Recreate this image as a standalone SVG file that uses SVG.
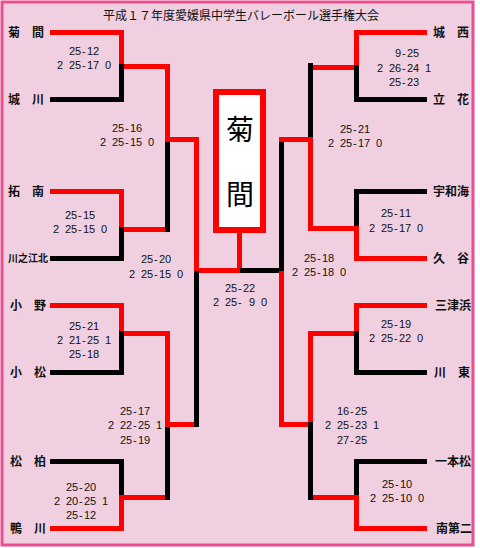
<svg xmlns="http://www.w3.org/2000/svg" width="480" height="548" viewBox="0 0 480 548">
<style>
.r{fill:#ff0000}
.k{fill:#000000}
.nm{font-family:"Noto Sans CJK JP","Noto Sans",sans-serif;font-size:12px;font-weight:700;fill:#111}
.sm{font-size:10px}
.sc{font-family:"Liberation Sans",Arial,sans-serif;font-size:11px;fill:#111}
.tt{font-family:"Noto Sans CJK JP","Noto Sans",sans-serif;font-size:12px;fill:#111}
.ch{font-family:"Noto Sans CJK JP","Noto Sans",sans-serif;font-size:28px;fill:#000;text-anchor:middle}
</style>
<rect x="0" y="0" width="480" height="548" fill="#ffffff"/>
<rect x="2" y="2" width="471" height="543" fill="#f0d0e0" stroke="#ec4c90" stroke-width="3"/>
<text class="tt" x="103" y="20">平成１７年度愛媛県中学生バレーボール選手権大会</text>

<g id="connectors">
<!-- left top quarter -->
<rect class="r" x="50" y="30" width="74" height="5"/>
<rect class="r" x="119" y="30" width="5" height="36"/>
<rect class="k" x="119" y="64" width="5" height="38"/>
<rect class="k" x="50" y="97" width="74" height="5"/>
<rect class="r" x="124" y="64" width="43" height="5"/>
<rect class="r" x="165" y="64" width="5" height="76"/>
<rect class="r" x="50" y="189" width="74" height="5"/>
<rect class="r" x="119" y="189" width="5" height="39"/>
<rect class="k" x="119" y="227" width="5" height="34"/>
<rect class="k" x="50" y="256" width="74" height="5"/>
<rect class="r" x="124" y="227" width="41" height="5"/>
<rect class="k" x="165" y="140" width="5" height="92"/>
<rect class="r" x="165" y="137" width="34" height="5"/>
<!-- left bottom quarter -->
<rect class="r" x="50" y="303" width="74" height="5"/>
<rect class="r" x="119" y="303" width="5" height="30"/>
<rect class="k" x="119" y="331" width="5" height="44"/>
<rect class="k" x="50" y="370" width="74" height="5"/>
<rect class="r" x="124" y="331" width="46" height="5"/>
<rect class="r" x="165" y="331" width="5" height="96"/>
<rect class="k" x="165" y="425" width="5" height="75"/>
<rect class="r" x="165" y="422" width="34" height="5"/>
<rect class="k" x="50" y="459" width="74" height="5"/>
<rect class="k" x="119" y="459" width="5" height="38"/>
<rect class="r" x="119" y="495" width="5" height="36"/>
<rect class="r" x="50" y="526" width="74" height="5"/>
<rect class="r" x="124" y="495" width="41" height="5"/>
<!-- left half final -->
<rect class="r" x="194" y="137" width="5" height="136"/>
<rect class="k" x="194" y="271" width="5" height="156"/>
<!-- final -->
<rect class="r" x="199" y="268" width="41" height="5"/>
<rect class="r" x="237" y="233" width="5" height="37"/>
<rect class="k" x="240" y="268" width="44" height="5"/>
<rect class="k" x="279" y="137" width="5" height="136"/>
<rect class="r" x="279" y="271" width="5" height="156"/>
<!-- right top quarter -->
<rect class="r" x="354" y="30" width="73" height="5"/>
<rect class="r" x="354" y="30" width="5" height="38"/>
<rect class="k" x="354" y="65" width="5" height="37"/>
<rect class="k" x="354" y="97" width="73" height="5"/>
<rect class="r" x="313" y="65" width="41" height="5"/>
<rect class="k" x="308" y="63" width="5" height="77"/>
<rect class="r" x="279" y="137" width="34" height="5"/>
<rect class="r" x="308" y="140" width="5" height="91"/>
<rect class="k" x="354" y="189" width="73" height="5"/>
<rect class="k" x="354" y="189" width="5" height="40"/>
<rect class="r" x="354" y="226" width="5" height="35"/>
<rect class="r" x="354" y="256" width="73" height="5"/>
<rect class="r" x="313" y="226" width="41" height="5"/>
<!-- right bottom quarter -->
<rect class="r" x="354" y="303" width="73" height="5"/>
<rect class="r" x="354" y="303" width="5" height="31"/>
<rect class="k" x="354" y="331" width="5" height="44"/>
<rect class="k" x="354" y="370" width="73" height="5"/>
<rect class="r" x="308" y="331" width="46" height="5"/>
<rect class="r" x="308" y="331" width="5" height="93"/>
<rect class="r" x="279" y="422" width="34" height="5"/>
<rect class="k" x="308" y="422" width="5" height="78"/>
<rect class="k" x="354" y="459" width="73" height="5"/>
<rect class="k" x="354" y="459" width="5" height="38"/>
<rect class="r" x="354" y="495" width="5" height="36"/>
<rect class="r" x="354" y="526" width="73" height="5"/>
<rect class="r" x="313" y="495" width="41" height="5"/>
</g>

<g id="champion">
<rect x="216" y="92" width="47" height="138" fill="#ffffff" stroke="#ff0000" stroke-width="6"/>
<text class="ch" x="240" y="140">菊</text>
<text class="ch" x="240" y="205">間</text>
</g>

<g id="team-kikuma"><text class="nm" x="8" y="37">菊　間</text></g>
<g id="team-jokawa"><text class="nm" x="8" y="104">城　川</text></g>
<g id="team-takunan"><text class="nm" x="8" y="196">拓　南</text></g>
<g id="team-kawanoehoku"><text class="nm sm" x="8" y="262">川之江北</text></g>
<g id="team-ono"><text class="nm" x="10" y="310">小　野</text></g>
<g id="team-komatsu"><text class="nm" x="10" y="377">小　松</text></g>
<g id="team-matsukaku"><text class="nm" x="10" y="466">松　柏</text></g>
<g id="team-kamogawa"><text class="nm" x="10" y="533">鴨　川</text></g>

<g id="team-josai"><text class="nm" x="433" y="37">城　西</text></g>
<g id="team-tachibana"><text class="nm" x="433" y="104">立　花</text></g>
<g id="team-uwami"><text class="nm" x="433" y="196">宇和海</text></g>
<g id="team-kutani"><text class="nm" x="433" y="263">久　谷</text></g>
<g id="team-mitsuhama"><text class="nm" x="435" y="310">三津浜</text></g>
<g id="team-kawahigashi"><text class="nm" x="434" y="377">川　東</text></g>
<g id="team-ipponmatsu"><text class="nm" x="435" y="466">一本松</text></g>
<g id="team-minamidaini"><text class="nm" x="436" y="533">南第二</text></g>

<g id="scores">
<text class="sc" x="69 75 82 87 93" y="55">25-12</text>
<text class="sc" x="57 69 75 82 87 93 105" y="69">225-170</text>

<text class="sc" x="112 118 125 130 136" y="132">25-16</text>
<text class="sc" x="100 112 118 125 130 136 148" y="146">225-150</text>

<text class="sc" x="65 71 78 83 89" y="219">25-15</text>
<text class="sc" x="53 65 71 78 83 89 101" y="233">225-150</text>

<text class="sc" x="141 147 154 159 165" y="263">25-20</text>
<text class="sc" x="129 141 147 154 159 165 177" y="278">225-150</text>

<text class="sc" x="225 231 238 243 249" y="292">25-22</text>
<text class="sc" x="213 225 231 238 249 261" y="306">225-90</text>

<text class="sc" x="69 75 82 87 93" y="330">25-21</text>
<text class="sc" x="57 69 75 82 87 93 105" y="344">221-251</text>
<text class="sc" x="69 75 82 87 93" y="358">25-18</text>

<text class="sc" x="120 126 133 138 144" y="415">25-17</text>
<text class="sc" x="108 120 126 133 138 144 156" y="429">222-251</text>
<text class="sc" x="120 126 133 138 144" y="444">25-19</text>

<text class="sc" x="66 72 79 84 90" y="491">25-20</text>
<text class="sc" x="54 66 72 79 84 90 102" y="505">220-251</text>
<text class="sc" x="66 72 79 84 90" y="519">25-12</text>

<text class="sc" x="395 402 407 413" y="57">9-25</text>
<text class="sc" x="377 389 395 402 407 413 425" y="72">226-241</text>
<text class="sc" x="389 395 402 407 413" y="86">25-23</text>

<text class="sc" x="340 346 353 358 364" y="133">25-21</text>
<text class="sc" x="328 340 346 353 358 364 376" y="147">225-170</text>

<text class="sc" x="381 387 394 399 405" y="217">25-11</text>
<text class="sc" x="369 381 387 394 399 405 417" y="232">225-170</text>

<text class="sc" x="304 310 317 322 328" y="262">25-18</text>
<text class="sc" x="292 304 310 317 322 328 340" y="276">225-180</text>

<text class="sc" x="381 387 394 399 405" y="328">25-19</text>
<text class="sc" x="369 381 387 394 399 405 417" y="342">225-220</text>

<text class="sc" x="337 343 350 355 361" y="415">16-25</text>
<text class="sc" x="325 337 343 350 355 361 373" y="429">225-231</text>
<text class="sc" x="337 343 350 355 361" y="444">27-25</text>

<text class="sc" x="382 388 395 400 406" y="488">25-10</text>
<text class="sc" x="370 382 388 395 400 406 418" y="502">225-100</text>
</g>
</svg>
